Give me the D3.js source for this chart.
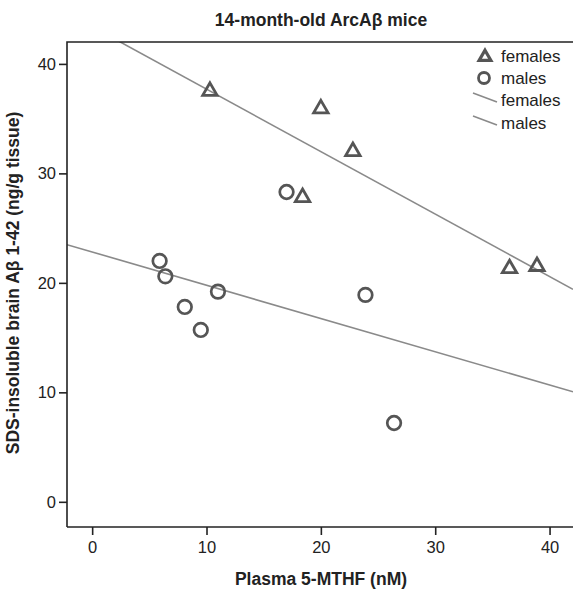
<!DOCTYPE html>
<html><head><meta charset="utf-8">
<script src="https://cdn.jsdelivr.net/npm/d3@7"></script>
<style>body{margin:0;background:#fff}svg{display:block;font-family:"Liberation Sans",Arial,sans-serif}</style>
</head><body><svg id="c" width="574" height="590"></svg>
<script>
const title = "14-month-old ArcAβ mice";
const xLabel = "Plasma 5-MTHF (nM)";
const yLabel = "SDS-insoluble brain Aβ 1-42 (ng/g tissue)";
const xTicks = [0, 10, 20, 30, 40];
const yTicks = [0, 10, 20, 30, 40];
const femalesX = [10.3, 20.0, 22.8, 18.4, 36.5, 38.9];
const femalesY = [37.6, 36.0, 32.1, 27.9, 21.4, 21.6];
const malesX = [5.9, 6.4, 8.1, 9.5, 11.0, 17.0, 23.9, 26.4];
const malesY = [22.0, 20.6, 17.8, 15.7, 19.2, 28.3, 18.9, 7.2];
const legendLabels = ["females", "males", "females", "males"];

const svg = d3.select("#c");
const L = 67, R = 573, T = 42, B = 527;
const x = d3.scaleLinear().domain([-2.2, 42.05]).range([L, R]);
const y = d3.scaleLinear().domain([-2.3, 42]).range([B, T]);
const markColor = "#555", lineColor = "#8a8a8a";

function fit(xs, ys) {
  const mx = d3.mean(xs), my = d3.mean(ys);
  let sxy = 0, sxx = 0;
  xs.forEach((v, i) => { sxy += (v - mx) * (ys[i] - my); sxx += (v - mx) ** 2; });
  const b = sxy / sxx;
  return { b, a: my - b * mx };
}

svg.append("clipPath").attr("id", "pc").append("rect")
  .attr("x", L).attr("y", T).attr("width", R - L).attr("height", B - T);

// fit lines
[[femalesX, femalesY], [malesX, malesY]].forEach(([xs, ys]) => {
  const f = fit(xs, ys);
  const d = x.domain();
  svg.append("line").attr("clip-path", "url(#pc)")
    .attr("x1", x(d[0])).attr("y1", y(f.a + f.b * d[0]))
    .attr("x2", x(d[1])).attr("y2", y(f.a + f.b * d[1]))
    .attr("stroke", lineColor).attr("stroke-width", 1.6);
});

// axes
const xAxis = svg.append("g").attr("transform", `translate(0,${B})`)
  .call(d3.axisBottom(x).tickValues(xTicks).tickSize(8).tickPadding(6).tickSizeOuter(0));
const yAxis = svg.append("g").attr("transform", `translate(${L},0)`)
  .call(d3.axisLeft(y).tickValues(yTicks).tickSize(8).tickPadding(3).tickSizeOuter(0));
[xAxis, yAxis].forEach(g => {
  g.select(".domain").remove();
  g.selectAll("line").attr("stroke", "#222").attr("stroke-width", 1.6);
  g.selectAll("text").attr("font-size", 16.5).attr("fill", "#222")
    .attr("font-family", "Liberation Sans, Arial, sans-serif");
});

// frame
svg.append("path").attr("d", `M${L},${B}V${T}H${R}`)
  .attr("fill", "none").attr("stroke", "#222").attr("stroke-width", 1.6);
svg.append("line").attr("x1", L).attr("x2", R).attr("y1", B).attr("y2", B)
  .attr("stroke", "#222").attr("stroke-width", 1.6);

const tri = d3.symbol().type(d3.symbolTriangle);
// points
svg.append("g").selectAll("path").data(femalesX).join("path")
  .attr("d", tri.size(90)())
  .attr("transform", (d, i) => `translate(${x(d)},${y(femalesY[i]) + 1})`)
  .attr("fill", "none").attr("stroke", markColor).attr("stroke-width", 2.8);
svg.append("g").selectAll("circle").data(malesX).join("circle")
  .attr("cx", d => x(d)).attr("cy", (d, i) => y(malesY[i])).attr("r", 6.8)
  .attr("fill", "none").attr("stroke", markColor).attr("stroke-width", 2.7);

// title & axis titles
svg.append("text").attr("x", 321).attr("y", 26).attr("text-anchor", "middle")
  .attr("font-size", 17.5).attr("font-weight", "bold").attr("fill", "#222").text(title);
svg.append("text").attr("x", 321).attr("y", 585).attr("text-anchor", "middle")
  .attr("font-size", 17.5).attr("font-weight", "bold").attr("fill", "#222").text(xLabel);
svg.append("text").attr("transform", "translate(19,283) rotate(-90)").attr("text-anchor", "middle")
  .attr("font-size", 17.5).attr("font-weight", "bold").attr("fill", "#222").text(yLabel);

// legend
const lg = svg.append("g");
const ly = [56, 78, 100, 123];
lg.append("path").attr("d", tri.size(60)()).attr("transform", `translate(485,${ly[0] + 1})`)
  .attr("fill", "none").attr("stroke", markColor).attr("stroke-width", 3.2);
lg.append("circle").attr("cx", 484).attr("cy", ly[1]).attr("r", 5.5)
  .attr("fill", "none").attr("stroke", markColor).attr("stroke-width", 2.8);
[2, 3].forEach(k => {
  lg.append("line").attr("x1", 473).attr("y1", ly[k] - 7).attr("x2", 497).attr("y2", ly[k] + 2)
    .attr("stroke", lineColor).attr("stroke-width", 1.6);
});
legendLabels.forEach((t, k) => {
  lg.append("text").attr("x", 501).attr("y", ly[k] + 6).attr("font-size", 17)
    .attr("fill", "#222").text(t);
});
</script></body></html>
